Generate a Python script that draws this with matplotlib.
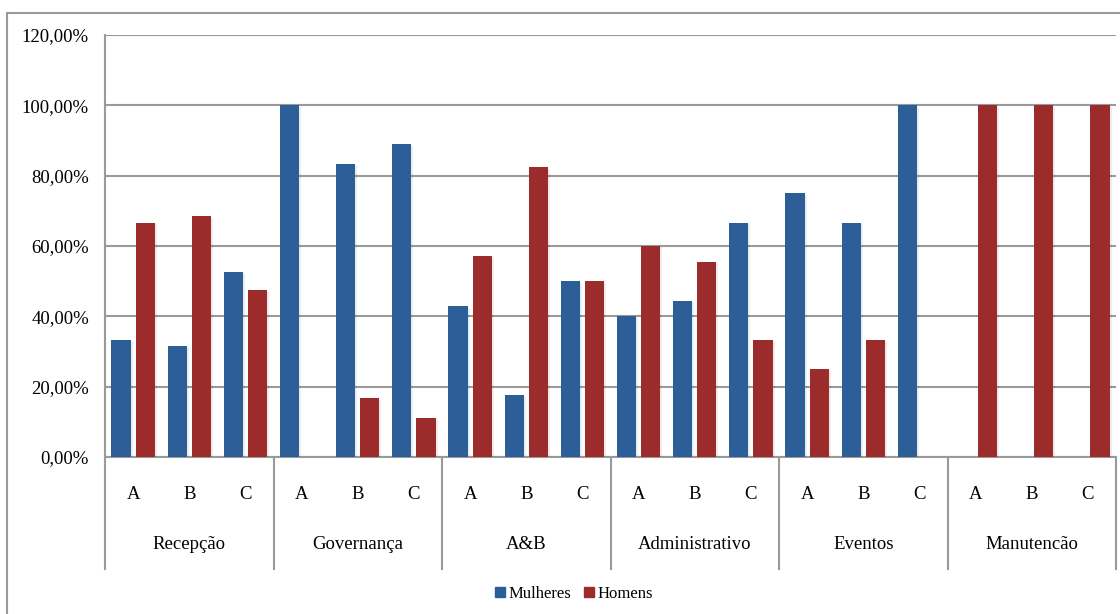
import matplotlib
matplotlib.use("Agg")
import matplotlib.pyplot as plt
import matplotlib.patheffects as pe
from matplotlib.lines import Line2D
from matplotlib.patches import Patch, Rectangle
from matplotlib.ticker import FuncFormatter
import numpy as np

plt.rcParams["font.family"] = ["Liberation Serif", "DejaVu Serif"]

setores = ["Recepção", "Governança", "A&B", "Administrativo", "Eventos", "Manutencão"]
niveis = ["A", "B", "C"]

mulheres = [33.33, 31.58, 52.63,
            100.0, 83.33, 88.89,
            42.86, 17.65, 50.0,
            40.0, 44.44, 66.67,
            75.0, 66.67, 100.0,
            0.0, 0.0, 0.0]
homens = [66.67, 68.42, 47.37,
          0.0, 16.67, 11.11,
          57.14, 82.35, 50.0,
          60.0, 55.56, 33.33,
          25.0, 33.33, 0.0,
          100.0, 100.0, 100.0]

azul = "#2c5f98"
vermelho = "#9c2c2c"
cinza = "#9a9a9a"

W, H = 1120, 614
fig = plt.figure(figsize=(W / 100, H / 100), dpi=100)

# moldura externa do gráfico
fig.patches.append(Rectangle((7 / W, -0.05), 1.2, (H - 13) / H + 0.05,
                             transform=fig.transFigure, fill=False,
                             edgecolor=cinza, lw=1.5))

ax = fig.add_axes([105 / W, (H - 457) / H, (1116 - 105) / W, (457 - 35) / H])

x = np.arange(len(mulheres))
largura = 0.34
desloc = 0.215
sombra = [pe.SimplePatchShadow(offset=(1.5, -1), alpha=0.08), pe.Normal()]

b1 = ax.bar(x - desloc, mulheres, largura, color=azul, zorder=3)
b2 = ax.bar(x + desloc, homens, largura, color=vermelho, zorder=3)
for barra in list(b1) + list(b2):
    barra.set_path_effects(sombra)

ax.set_xlim(-0.5, len(mulheres) - 0.5)
ax.set_ylim(0, 120)
ax.set_yticks(np.arange(0, 121, 20))
ax.yaxis.set_major_formatter(FuncFormatter(lambda v, _: f"{v:.2f}%".replace(".", ",")))
ax.tick_params(axis="y", length=0, pad=11.5, labelsize=13.5)
ax.set_xticks([])
ax.grid(axis="y", color=cinza, lw=1.5, zorder=0)

for lado in ["top", "right"]:
    ax.spines[lado].set_visible(False)
for lado in ["left", "bottom"]:
    ax.spines[lado].set_color(cinza)
    ax.spines[lado].set_linewidth(1.5)

# eixo de categorias em dois níveis
tr = ax.get_xaxis_transform()
for i in x:
    ax.text(i, -0.088, niveis[i % 3], transform=tr, ha="center", va="center",
            fontsize=13.5)
for g, nome in enumerate(setores):
    ax.text(g * 3 + 1, -0.207, nome, transform=tr, ha="center", va="center",
            fontsize=13.5)
for g in range(len(setores) + 1):
    ax.add_line(Line2D([g * 3 - 0.5] * 2, [0, -0.265], transform=tr,
                       color=cinza, lw=1.5, clip_on=False))

handles = [Patch(color=azul, label="Mulheres"), Patch(color=vermelho, label="Homens")]
fig.legend(handles=handles, loc="center", bbox_to_anchor=(574 / W, (H - 594) / H),
           ncol=2, frameon=False, fontsize=12, handlelength=0.6, handleheight=0.6,
           handletextpad=0.2, columnspacing=0.8)

fig.savefig("out.png", dpi=100)
